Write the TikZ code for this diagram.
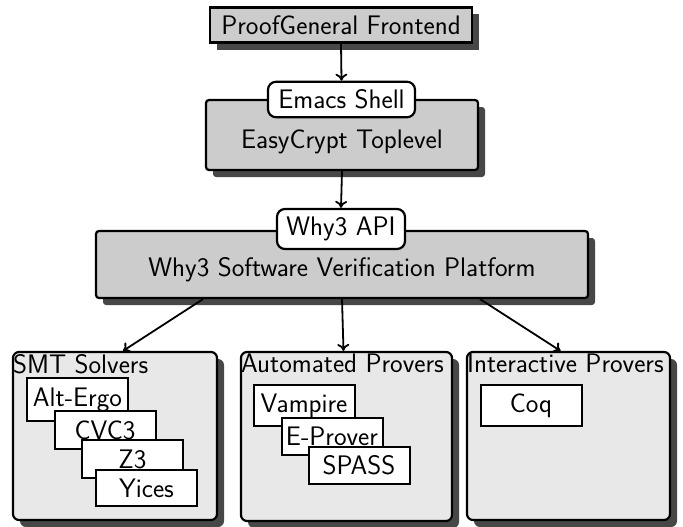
\documentclass[tikz,border=0pt]{standalone}
\usetikzlibrary{shadows,arrows.meta}
\begin{document}
\begin{tikzpicture}[x=1pt,y=-1pt,
  every node/.style={font=\fontsize{26.8}{32}\selectfont\sffamily},
  shad/.style={drop shadow={shadow xshift=7pt,shadow yshift=-7pt,fill=black!72,opacity=1}},
  mainbox/.style={draw,line width=2.2pt,fill=gray!40,shad,inner ysep=8pt},
  apibox/.style={draw,line width=2.2pt,fill=white,rounded corners=8pt,inner ysep=8pt},
  groupbox/.style={draw,line width=2.2pt,fill=gray!18,rounded corners=6pt,shad},
  grouplabel/.style={anchor=north west,inner xsep=1pt,inner ysep=3pt},
  tool/.style={draw,line width=2pt,fill=white,minimum width=101pt,inner ysep=9pt},
  arr/.style={line width=1.8pt,-{To[length=7pt,width=12pt]}}]
\useasboundingbox (0,0) rectangle (683,527);
% top
\node[mainbox,minimum width=262pt] (pg) at (341,25) {ProofGeneral Frontend};
\node[mainbox,rounded corners=3pt,minimum width=272pt,minimum height=70pt] (ec) at (342,135) {};
\node (ect) at (342,142) {EasyCrypt Toplevel};
\node[apibox,minimum width=147pt] (emacs) at (341.5,99.5) {Emacs Shell};
% platform
\node[mainbox,rounded corners=3pt,minimum width=492pt,minimum height=67pt] (plat) at (342,264.5) {};
\node (platt) at (342,270) {Why3 Software Verification Platform};
\node[apibox,minimum width=128pt] (api) at (341,229) {Why3 API};
% groups
\node[groupbox,minimum width=204pt,minimum height=168pt] (smt) at (115,436) {};
\node[grouplabel] (smtl) at (smt.north west) {SMT Solvers};
\node[groupbox,minimum width=211pt,minimum height=169pt] (auto) at (346.5,436.5) {};
\node[grouplabel] (autol) at (auto.north west) {Automated Provers};
\node[groupbox,minimum width=203pt,minimum height=168pt] (inter) at (568.5,436) {};
\node[grouplabel] (interl) at (inter.north west) {Interactive Provers};
% tools
\node[tool] (alt) at (77.5,399.5) {Alt-Ergo};
\node[tool] (cvc) at (105,430) {CVC3};
\node[tool] (z3) at (132.5,459) {Z3};
\node[tool] (yic) at (146.5,488) {Yices};
\node[tool] (vam) at (304,405.5) {Vampire};
\node[tool] (epr) at (332,436.5) {E-Prover};
\node[tool] (spa) at (359,465.5) {SPASS};
\node[tool] (coq) at (531,405.5) {Coq};
% arrows
\draw[arr] (pg.south) -- (emacs.north);
\draw[arr] (ec.south) -- (api.north);
\draw[arr] ([xshift=-139pt]plat.south) -- ([xshift=8pt]smt.north);
\draw[arr] (plat.south) -- ([xshift=-3pt]auto.north);
\draw[arr] ([xshift=138pt]plat.south) -- ([xshift=-8pt]inter.north);
\end{tikzpicture}
\end{document}
